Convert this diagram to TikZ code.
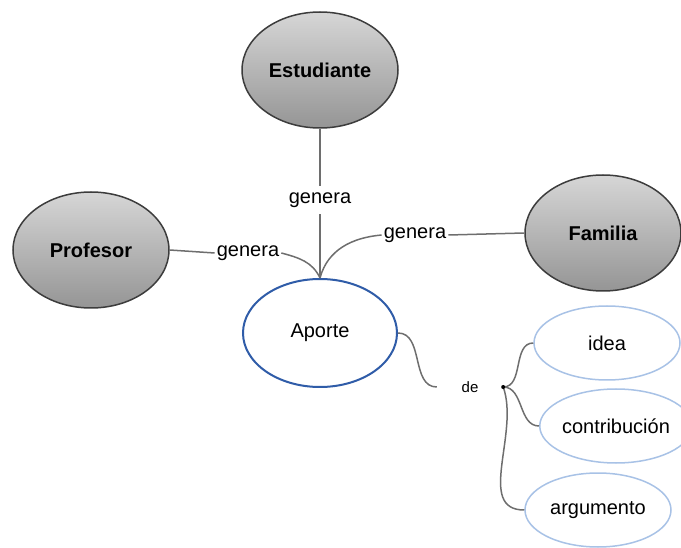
\documentclass[tikz,border=0pt]{standalone}
\usepackage{fontspec}
\setmainfont{Liberation Sans}
\usetikzlibrary{shapes.geometric}
\definecolor{actortop}{HTML}{D6D6D6}
\definecolor{actorbot}{HTML}{959595}
\definecolor{actorline}{HTML}{3C3C3C}
\definecolor{aporteline}{HTML}{2F5CA8}
\definecolor{idealine}{HTML}{A8C2E6}
\definecolor{conline}{HTML}{6E6E6E}

\begin{document}
\begin{tikzpicture}[x=1pt, y=-1pt,
    actor/.style={ellipse, draw=actorline, line width=1.5, top color=actortop, bottom color=actorbot,
        minimum width=156, minimum height=116, font=\bfseries\fontsize{20}{24}\selectfont},
    concept/.style={ellipse, draw=aporteline, line width=2, fill=white, inner xsep=0,
        minimum width=154, minimum height=108, font=\fontsize{20}{24}\selectfont},
    leaf/.style={ellipse, draw=idealine, line width=1.5, fill=white, inner xsep=0,
        minimum width=146, minimum height=74, font=\fontsize{20}{24}\selectfont},
    phrase/.style={inner sep=2, minimum height=28, font=\fontsize{20}{24}\selectfont},
    conn/.style={draw=conline, line width=1.5}]
    \useasboundingbox (0,0) rectangle (681,548);
    \node[actor] (estudiante) at (320,70) {Estudiante};
    \node[actor] (profesor) at (91,250) {Profesor};
    \node[actor] (familia) at (603,233) {Familia};
    \node[phrase] (gE) at (320,200) {genera};
    \node[phrase] (gP) at (248,253) {genera};
    \node[phrase] (gF) at (415,235) {genera};
    \node[concept] (aporte) at (320,333) {Aporte};
    \node[phrase, font=\fontsize{15}{18}\selectfont, minimum width=66] (de) at (470,387) {de};
    \node[leaf] (idea) at (607,343) {idea};
    \node[leaf] (contrib) at (616,426) {contribución};
    \node[leaf] (argum) at (598,510) {argumento};
    \coordinate (j) at (aporte.north);
    \draw[conn] (estudiante) -- (gE);
    \draw[conn] (gE) -- (j);
    \draw[conn] (profesor.east) -- (gP.west);
    \draw[conn] (gP.east) to[out=-15, in=115] (j);
    \draw[conn] (familia.west) -- (gF.east);
    \draw[conn] (gF.west) to[out=185, in=75] (j);
    \draw[conn] (aporte.east) to[out=0, in=180] (de.west);
    \draw[conn] (de.east) to[out=0, in=180] (idea.west);
    \draw[conn] (de.east) to[out=0, in=180] (contrib.west);
    \draw[conn] (de.east) to[out=-70, in=180] (argum.west);
    \fill (de.east) circle (2);
\end{tikzpicture}
\end{document}
